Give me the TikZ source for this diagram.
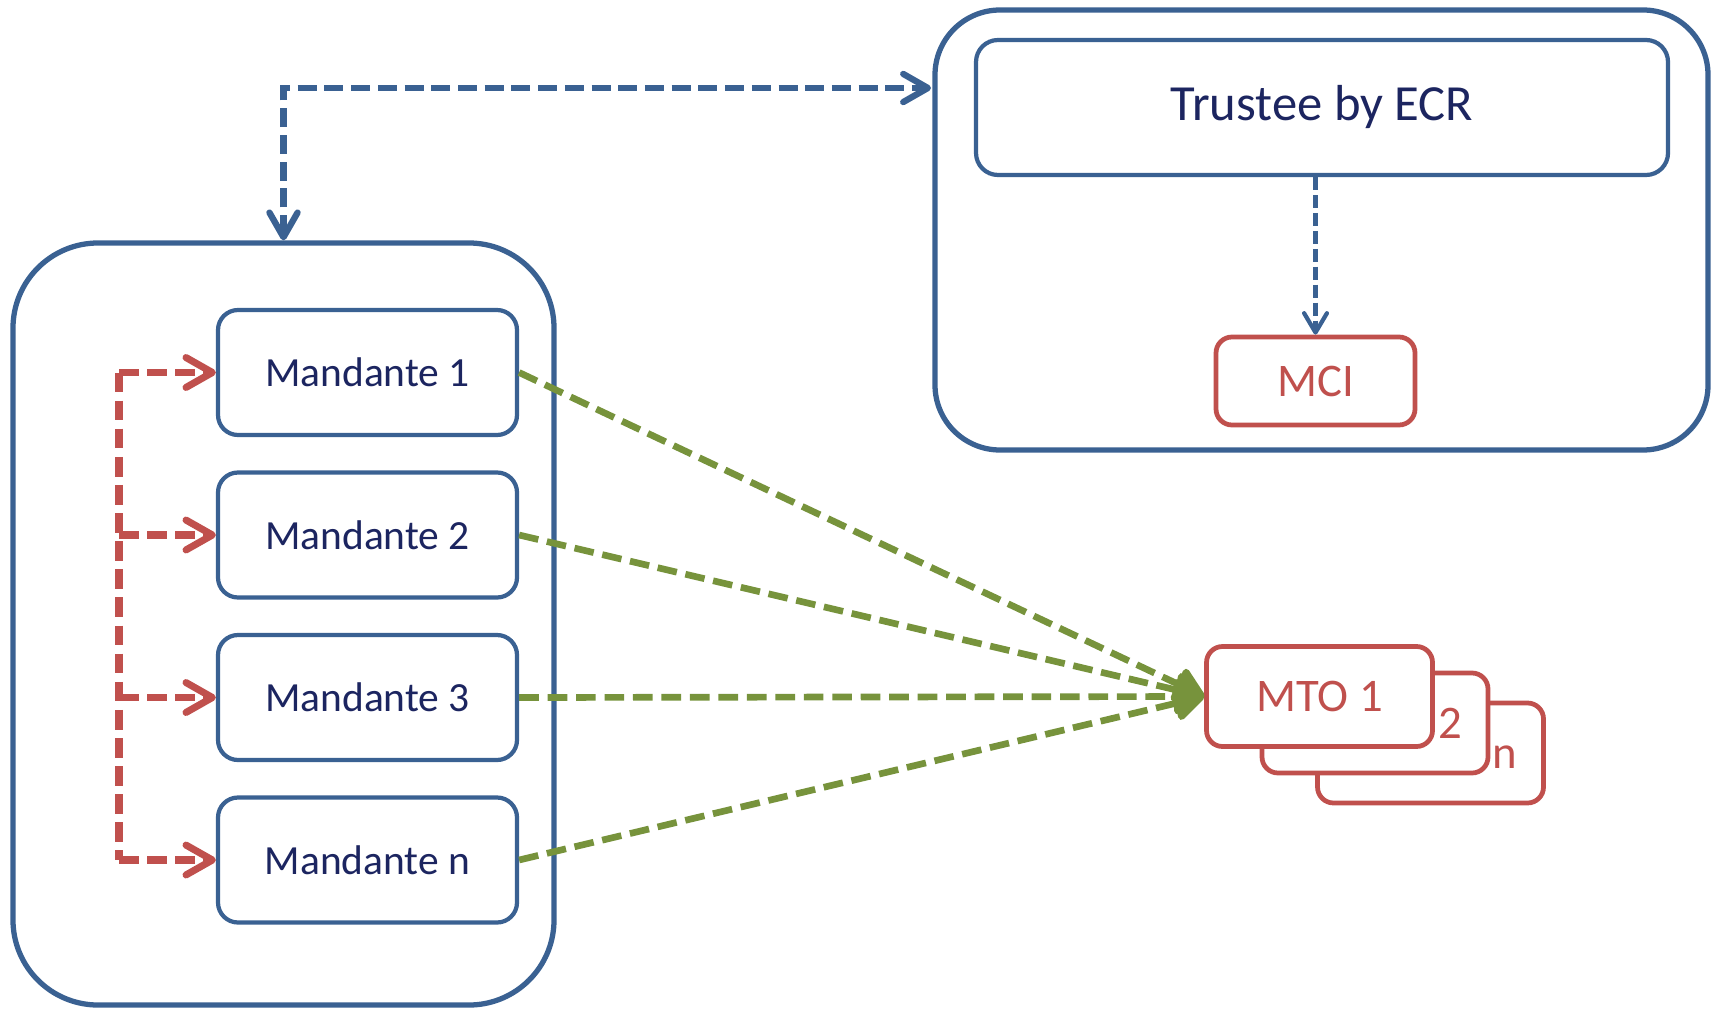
\documentclass[tikz,border=0pt]{standalone}
\usepackage{fontspec}
\setmainfont{Carlito}
\usepackage{tikz}
\usetikzlibrary{arrows.meta}
\definecolor{boxblue}{HTML}{3A6192}
\definecolor{inkblue}{HTML}{1C2560}
\definecolor{mtored}{HTML}{C0504D}
\definecolor{feedgreen}{HTML}{77933C}

\begin{document}
\begin{tikzpicture}[
    panel/.style={draw=boxblue, line width=1.5pt, inner sep=0pt},
    mand/.style={draw=boxblue, line width=1.2pt, fill=white, rounded corners=0.2cm,
        minimum width=2.99cm, minimum height=1.25cm, text=inkblue,
        font=\fontsize{11.8}{14}\selectfont},
    redbox/.style={draw=mtored, line width=1.35pt, fill=white, rounded corners=0.16cm,
        inner sep=0pt, text=mtored, font=\fontsize{13.3}{16}\selectfont},
    mto/.style={redbox, minimum width=2.26cm, minimum height=1cm, text height=0.3cm, text depth=0pt},
    bus/.style={draw=mtored, line width=2pt, dash pattern=on 5.6pt off 2.4pt},
    relay/.style={bus, -{Straight Barb[length=7.5pt,width=8.5pt,round]}},
    feed/.style={draw=feedgreen, line width=1.9pt, dash pattern=on 5.6pt off 2.5pt,
        -{Triangle[length=9.5pt,width=11pt,round]}},
    trustlink/.style={draw=boxblue, line width=1.8pt, dash pattern=on 5.4pt off 2.2pt,
        {Straight Barb[length=7pt,width=8pt,round]}-{Straight Barb[length=7pt,width=8pt,round]}},
    sublink/.style={draw=boxblue, line width=1.2pt, dash pattern=on 3.7pt off 1.4pt,
        -{Straight Barb[length=5.5pt,width=6.5pt,round]}}
  ]
    \useasboundingbox (0,0) rectangle (17.13,-10.08);

    \node[panel, rounded corners=0.85cm, minimum width=5.41cm, minimum height=7.62cm] (grpL) at (2.835,-6.24) {};
    \node[panel, rounded corners=0.65cm, minimum width=7.73cm, minimum height=4.40cm] (grpR) at (13.215,-2.30) {};

    \node[draw=boxblue, line width=1.2pt, rounded corners=0.22cm, minimum width=6.92cm, minimum height=1.35cm,
        text=inkblue, font=\fontsize{14.4}{17}\selectfont] (trustee) at (13.22,-1.075) {Trustee by ECR};
    \node[redbox, minimum width=1.99cm, minimum height=0.88cm] (mci) at (13.155,-3.81) {MCI};

    \foreach \i/\y in {1/-3.725, 2/-5.35, 3/-6.975, n/-8.6}
        \node[mand] (m\i) at (3.675,\y) {Mandante \i};

    \node[mto, text width=1.74cm, align=right, inner xsep=0.26cm] (mton) at (14.305,-7.53) {n};
    \node[mto, text width=1.74cm, align=right, inner xsep=0.26cm] (mto2) at (13.75,-7.23) {2};
    \node[mto] (mto1) at (13.195,-6.965) {MTO 1};

    \coordinate (hook) at (9.31,-0.88);
    \draw[trustlink] (grpL.north) |- (hook);
    \draw[sublink] (trustee.south -| mci.north) -- (mci.north);

    \coordinate (bus) at (1.19,0);
    \draw[bus] (bus |- m1) -- (bus |- mn);
    \foreach \i in {1,2,3,n}
        \draw[relay] (bus |- m\i) -- (m\i.west);

    \foreach \i in {1,2,3,n}
        \draw[feed] (m\i.east) -- (mto1.west);
\end{tikzpicture}
\end{document}
